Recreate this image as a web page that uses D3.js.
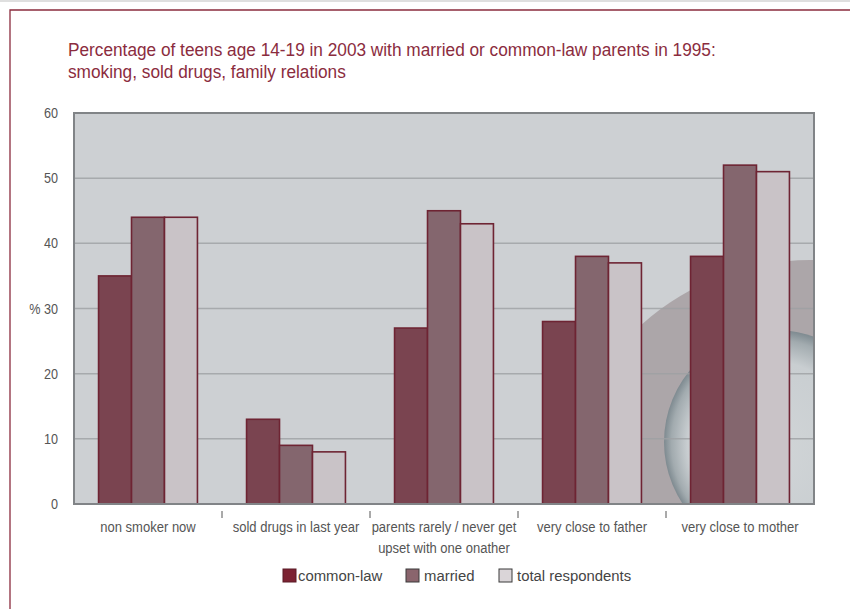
<!DOCTYPE html>
<html><head><meta charset="utf-8">
<script src="https://cdnjs.cloudflare.com/ajax/libs/d3/7.8.5/d3.min.js"></script>
<style>body{margin:0;background:#fff}svg{display:block}</style>
</head><body>
<script>
const categories = [["non smoker now"],["sold drugs in last year"],["parents rarely / never get","upset with one onather"],["very close to father"],["very close to mother"]];
const seriesNames = ["common-law","married","total respondents"];
const commonLaw = [35,13,27,28,38];
const married = [44,9,45,38,52];
const total = [44,8,43,37,51];
const yTicks = [0,10,20,30,40,50,60];

const W=850,H=609;
const svg=d3.select("body").append("svg").attr("width",W).attr("height",H);
const font='"Liberation Sans",Arial,sans-serif';
const barColors=["#7a4450","#84666e","#c9c3c7"];
const legColors=["#7c2232","#8a656d","#dad5d8"];
const legStroke=["#5a1a26","#3a3a3a","#3a3a3a"];

function condense(sel, factor){
  sel.each(function(){
    const w=this.getComputedTextLength();
    d3.select(this).attr("textLength",w*factor).attr("lengthAdjust","spacingAndGlyphs");
  });
}

// frame
svg.append("line").attr("x1",0).attr("x2",W).attr("y1",1).attr("y2",1).attr("stroke","#d4d4d4").attr("stroke-width",1.5);
svg.append("path").attr("d",`M10,${H} V10 H${W}`).attr("fill","none").attr("stroke","#8b2c3e").attr("stroke-width",1.3);

// title
const titleLines=["Percentage of teens age 14-19 in 2003 with married or common-law parents in 1995:","smoking, sold drugs, family relations"];
const tt=svg.append("g").selectAll("text").data(titleLines).join("text")
  .attr("x",68).attr("y",(d,i)=>56+i*22).attr("fill","#8b2c3e")
  .style("font-family",font).style("font-size","17.5px").text(d=>d);
condense(tt,0.985);

const L=74,R=814,T=113,B=504;
const x=d3.scaleBand().domain(d3.range(categories.length)).range([L,R]);
const y=d3.scaleLinear().domain([0,60]).range([B,T]);
const inner=d3.scaleBand().domain(d3.range(3)).range([0,x.bandwidth()]).paddingOuter(0.745);

const defs=svg.append("defs");
defs.append("clipPath").attr("id","pc").append("rect").attr("x",L).attr("y",T).attr("width",R-L).attr("height",B-T);
const g=defs.append("radialGradient").attr("id","sph").attr("cx","0.5").attr("cy","0.5").attr("r","0.5").attr("fx","0.42").attr("fy","0.56");
g.append("stop").attr("offset","0").attr("stop-color","#d2d6d8");
g.append("stop").attr("offset","0.75").attr("stop-color","#c9ced1");
g.append("stop").attr("offset","0.92").attr("stop-color","#a2abaf");
g.append("stop").attr("offset","1").attr("stop-color","#7e8a90");

svg.append("rect").attr("x",L).attr("y",T).attr("width",R-L).attr("height",B-T).attr("fill","#cdd0d3");
const deco=svg.append("g").attr("clip-path","url(#pc)");
deco.append("circle").attr("cx",810).attr("cy",512).attr("r",252).attr("fill","#aca6a9");
deco.append("circle").attr("cx",776).attr("cy",442).attr("r",112).attr("fill","url(#sph)");

// grid
svg.append("g").selectAll("line").data(yTicks.filter(d=>d>0&&d<60)).join("line")
  .attr("x1",L).attr("x2",R).attr("y1",d=>y(d)).attr("y2",d=>y(d)).attr("stroke","#9ea1a4").attr("stroke-width",1.5).attr("opacity",0.8);

// bars
const series=[commonLaw,married,total];
const bars=svg.append("g");
series.forEach((s,si)=>{
  bars.selectAll(null).data(s).join("rect")
    .attr("x",(d,i)=>x(i)+inner(si)).attr("width",inner.bandwidth())
    .attr("y",d=>y(d)).attr("height",d=>B-y(d))
    .attr("fill",barColors[si]).attr("stroke","#6e2433").attr("stroke-width",1.6);
});

// plot border
svg.append("rect").attr("x",L).attr("y",T).attr("width",R-L).attr("height",B-T).attr("fill","none").attr("stroke","#818487").attr("stroke-width",2);

// y axis labels
const yl=svg.append("g").selectAll("text").data(yTicks).join("text")
  .attr("x",58).attr("y",d=>y(d)+5).attr("text-anchor","end").attr("fill","#555").style("font-family",font).style("font-size","14px")
  .text(d=>d===30?"% 30":d);
condense(yl,0.9);

// x ticks between groups
svg.append("g").selectAll("line").data(d3.range(1,categories.length)).join("line")
  .attr("x1",d=>x(d)).attr("x2",d=>x(d)).attr("y1",B+7).attr("y2",B+14).attr("stroke","#555").attr("stroke-width",1);

// x labels
const xlData=[];
categories.forEach((lines,i)=>lines.forEach((ln,j)=>xlData.push({i,j,ln})));
const xl=svg.append("g").selectAll("text").data(xlData).join("text")
  .attr("x",d=>x(d.i)+x.bandwidth()/2).attr("y",d=>532+d.j*21)
  .attr("text-anchor","middle").attr("fill","#555").style("font-family",font).style("font-size","14px").text(d=>d.ln);
condense(xl,0.93);

// legend
const legX=[283,406,499];
const lg=svg.append("g");
seriesNames.forEach((n,i)=>{
  lg.append("rect").attr("x",legX[i]).attr("y",569).attr("width",13).attr("height",13).attr("fill",legColors[i]).attr("stroke",legStroke[i]).attr("stroke-width",1);
});
const lt=lg.selectAll("text").data(seriesNames).join("text")
  .attr("x",(d,i)=>legX[i]+(i==0?15:18)).attr("y",581).attr("fill","#444").style("font-family",font).style("font-size","15.5px").text(d=>d);
condense(lt,0.96);
</script>
</body></html>
